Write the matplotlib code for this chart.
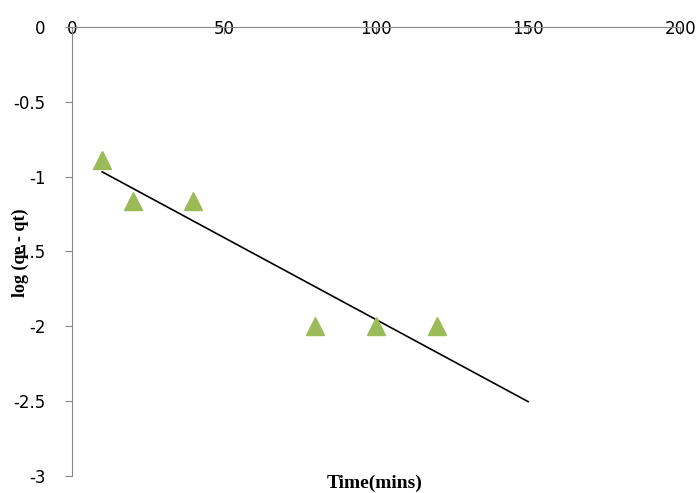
import numpy as np
import matplotlib.pyplot as plt

time_mins = [10, 20, 40, 80, 100, 120]
log_qe_qt = [-0.89, -1.16, -1.16, -2.0, -2.0, -2.0]

fig = plt.figure(figsize=(6.97, 4.93), dpi=100)
ax = fig.add_axes([0.103, 0.0345, 0.873, 0.911])

ax.plot(time_mins, log_qe_qt, linestyle="none", marker="^", markersize=13,
        color="#9BBB59", zorder=3)

# linear trendline
slope, intercept = np.polyfit(time_mins, log_qe_qt, 1)
xs = np.array([10, 150])
ax.plot(xs, slope * xs + intercept, color="black", linewidth=1.2, zorder=2)

ax.set_xlim(0, 200)
ax.set_ylim(-3, 0)
ax.set_xticks([0, 50, 100, 150, 200])
ax.set_yticks([0, -0.5, -1, -1.5, -2, -2.5, -3])
ax.set_yticklabels(["0", "-0.5", "-1", "-1.5", "-2", "-2.5", "-3"])

ax.spines["bottom"].set_position(("data", 0))
ax.spines["top"].set_visible(False)
ax.spines["right"].set_visible(False)
for s in ["bottom", "left"]:
    ax.spines[s].set_color("#888888")
ax.tick_params(axis="both", direction="out", length=5, color="#888888",
               labelsize=12)
ax.tick_params(axis="y", pad=14)
ax.tick_params(axis="x", pad=-10)

fig.text(375 / 697, 1 - 483 / 493, "Time(mins)", ha="center", va="center",
         fontsize=14, fontweight="bold", family="Liberation Serif")
fig.text(20 / 697, 1 - 253 / 493, "log (qe - qt)", ha="center", va="center",
         rotation=90, fontsize=13, fontweight="bold", family="Liberation Serif")

fig.savefig("out.png", dpi=100)
